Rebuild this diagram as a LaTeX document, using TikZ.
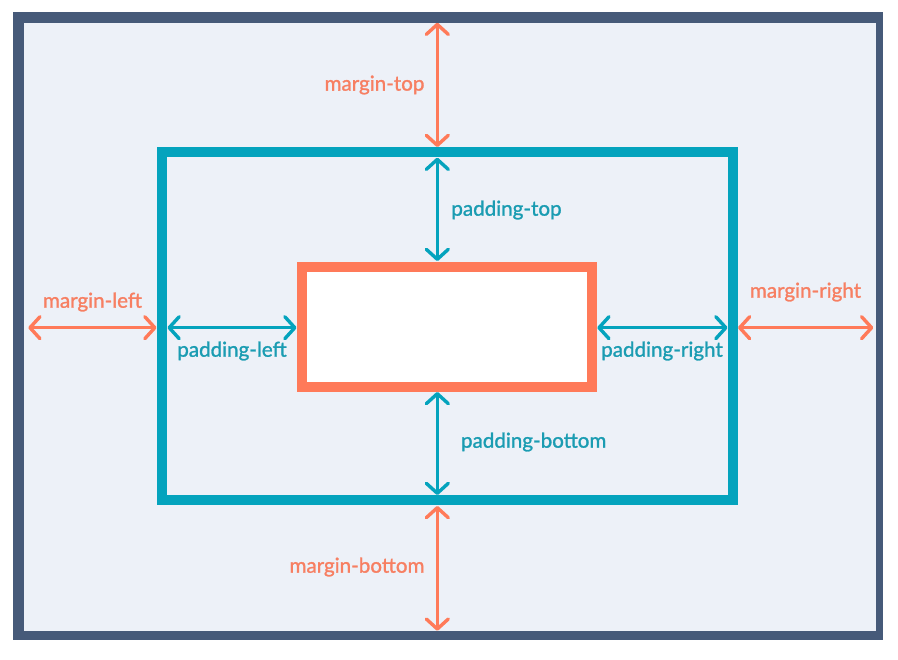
\documentclass[tikz,border=0pt]{standalone}
\usepackage{fontspec}
\newfontfamily\lblfont[FakeBold=1.3]{Lato}
\usetikzlibrary{arrows.meta}
\definecolor{framec}{HTML}{465A79}
\definecolor{paperc}{HTML}{EDF1F8}
\definecolor{tealc}{HTML}{04A3BD}
\definecolor{orangec}{HTML}{FF7A59}
\definecolor{tealtext}{HTML}{1A9CB2}
\definecolor{orangetext}{HTML}{F77F62}
\begin{document}
\begin{tikzpicture}[x=1pt,y=-1pt,line cap=round,font=\lblfont\fontsize{20.6}{24}\selectfont,
	dim/.style={line width=3.4pt,{Straight Barb[round,length=10pt,width=22pt]}-{Straight Barb[round,length=10pt,width=22pt]}},
	mdim/.style={dim,orangec},pdim/.style={dim,tealc},
	mlabel/.style={text=orangetext,inner sep=0pt},plabel/.style={text=tealtext,inner sep=0pt}]
			\useasboundingbox (0,0) rectangle (898,660);
			\fill[white] (0,0) rectangle (898,660);
			\fill[framec] (13,12) rectangle (882.7,640);
			\fill[paperc] (24,23) rectangle (875.7,631);
			\draw[tealc,line width=10pt,line join=miter] (162,152.5) rectangle (732.5,500.5);
			\draw[orangec,line width=10pt,line join=miter,fill=white] (301.7,266.7) rectangle (592,386.7);
			% margin and padding end points
			\coordinate (mt1) at (437.3,22.7);  \coordinate (mt2) at (437.3,147);
			\coordinate (pt1) at (437.3,157.7); \coordinate (pt2) at (437.3,261);
			\coordinate (pb1) at (437.3,392);   \coordinate (pb2) at (437.3,495);
			\coordinate (mb1) at (437.3,506);   \coordinate (mb2) at (437.3,630.7);
			\coordinate (ml1) at (28.3,327.7);  \coordinate (ml2) at (156.5,327.7);
			\coordinate (pl1) at (167.5,327.7); \coordinate (pl2) at (296.5,327.7);
			\coordinate (pr1) at (597.3,327.7); \coordinate (pr2) at (727.5,327.7);
			\coordinate (mr1) at (738,327.7);   \coordinate (mr2) at (873.3,327.7);
			\draw[mdim] (mt1)--(mt2);
			\draw[mdim] (mb1)--(mb2);
			\draw[mdim] (ml1)--(ml2);
			\draw[mdim] (mr1)--(mr2);
			\draw[pdim] (pt1)--(pt2);
			\draw[pdim] (pb1)--(pb2);
			\draw[pdim] (pl1)--(pl2);
			\draw[pdim] (pr1)--(pr2);
			% labels
			\node[mlabel] (mtop) at (374.5,85) {margin-top};
			\node[mlabel] (mbottom) at (357,567) {margin-bottom};
			\node[mlabel] (mleft) at (92.5,302) {margin-left};
			\node[mlabel] (mright) at (805.5,292) {margin-right};
			\node[plabel] (ptop) at (506.5,210) {padding-top};
			\node[plabel] (pbottom) at (533.7,442) {padding-bottom};
			\node[plabel] (pleft) at (232,351) {padding-left};
			\node[plabel] (pright) at (662,351) {padding-right};
			\end{tikzpicture}
\end{document}
